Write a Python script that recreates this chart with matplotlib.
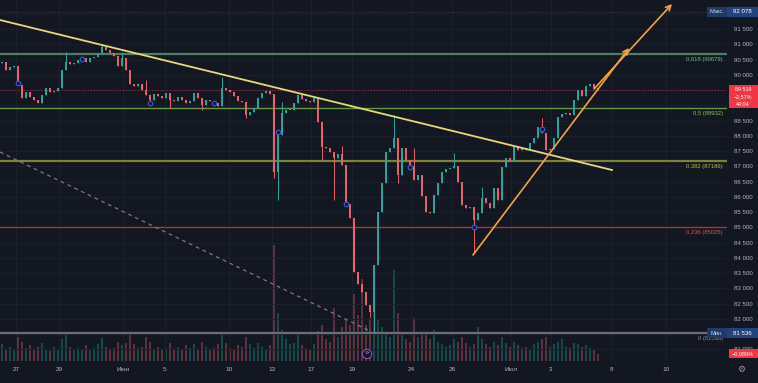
import matplotlib
matplotlib.use("Agg")
import matplotlib.pyplot as plt
from matplotlib.patches import Rectangle
import numpy as np

plt.rcParams['font.family'] = ['Liberation Sans', 'DejaVu Sans']

# candle closes (open = previous close)
first_open = 90400
closes = [
    90425, 90163, 90261, 90294, 89671, 89245, 89441, 89277, 89179, 89081,
    89343, 89573, 89441, 89474, 89573, 90163, 90425, 90360, 90393, 90491,
    90557, 90425, 90557, 90589, 90721, 90917, 90819, 90721, 90622, 90294,
    90557, 90163, 89704, 89638, 89704, 89507, 89343, 89179, 89376, 89310,
    89245, 89409, 89179, 89146, 89277, 89179, 89081, 89146, 89409, 89245,
    89015, 89179, 89146, 89081, 88982, 89573, 89507, 89441, 89310, 89146,
    89113, 88687, 88785, 88917, 89245, 89409, 89474, 89376, 86817, 88031,
    88753, 88851, 88851, 89081, 89343, 89212, 89146, 89113, 89245, 88457,
    87637, 87605, 87473, 87277, 87408, 87047, 85768, 85309, 83537, 83144,
    82881, 82455, 82225, 83767, 85505, 86457, 87473, 87605, 87933, 86719,
    87605, 87211, 87014, 86555, 86719, 86030, 85505, 85473, 86063, 86457,
    86817, 86916, 86949, 87014, 86489, 85735, 85637, 85669, 85243, 85473,
    85965, 85801, 85637, 86293, 85899, 86981, 87277, 87178, 87670, 87539,
    87572, 87539, 87769, 87933, 88293, 88097, 87539, 87572, 87933, 88621,
    88720, 88753, 88687, 89179, 89507, 89310, 89638, 89704, 89573, 89519,
]
# long wicks
wick_highs = {16: 90753, 25: 91016, 30: 90753, 36: 89835, 55: 89933, 70: 89113,
              78: 89310, 85: 87670, 98: 88687, 103: 87605, 113: 87441, 120: 86326, 135: 88589}
wick_lows = {37: 89081, 42: 88917, 50: 88851, 61: 88589, 68: 86621, 69: 85899, 80: 87211,
             83: 85899, 92: 82061, 93: 81536, 99: 86457, 118: 84161}

volumes = [
    14, 10, 12, 9, 20, 16, 11, 13, 9, 12,
    15, 10, 8, 12, 10, 18, 22, 12, 9, 11,
    10, 13, 9, 11, 14, 19, 12, 10, 11, 16,
    13, 15, 22, 14, 11, 12, 20, 16, 10, 12,
    9, 11, 15, 10, 12, 9, 13, 11, 14, 10,
    16, 12, 10, 11, 14, 24, 15, 11, 10, 13,
    12, 20, 14, 11, 15, 12, 10, 13, 96, 40,
    26, 18, 14, 15, 22, 13, 11, 10, 14, 25,
    30, 18, 16, 44, 20, 28, 34, 30, 56, 38,
    68, 30, 36, 45, 34, 28, 24, 20, 76, 40,
    22, 18, 16, 36, 20, 24, 22, 18, 26, 16,
    14, 12, 13, 18, 16, 20, 15, 12, 14, 28,
    18, 14, 12, 16, 13, 20, 15, 12, 16, 13,
    11, 12, 10, 14, 16, 18, 20, 12, 14, 16,
    18, 12, 11, 15, 14, 12, 13, 11, 10, 6,
]

date_pos = [3.5, 14.25, 30.25, 40.75, 56.75, 67.5, 77.25, 87.5, 102.25, 112.5, 127.25, 137.25, 152.25, 166.0]
date_labels = ["27", "29", "Июн", "5", "10", "13", "17", "19", "24", "26", "Июл", "3", "8", "10"]

fib_ratios = ["0", "0,236", "0,382", "0,5", "0,618"]
fib_prices = [81536, 85025, 87186, 88932, 90679]
fib_line_colors = ["#6b6e78", "#a33a3a", "#7d8238", "#5f9a45", "#4f7f62"]
fib_text_colors = ["#8d909a", "#d95757", "#b3bb45", "#86c05a", "#6cbf84"]

event_idx = [4, 20, 37, 53, 69, 86, 102, 118, 135]
event_price = [89737, 90524, 89081, 89081, 88129, 85768, 86982, 85013, 88228]

yellow_line = ([-0.5, 152.5], [91803, 86883])
gray_dashed = ([-0.5, 92], [87473, 81602])
orange_1 = ([117.75, 156.75], [84095, 90885])
orange_2 = ([148, 167.5], [89540, 92328])

last_price = 89519
max_price = 92078
min_price = 81536

bg = '#131722'
W, H = 758, 383
fig = plt.figure(figsize=(W / 100, H / 100), dpi=100)
fig.patch.set_facecolor(bg)
pane_w, pane_h = 727, 361
ax = fig.add_axes([0, 1 - pane_h / H, pane_w / W, pane_h / H])
axv = ax.twinx()
ax.set_zorder(axv.get_zorder() + 1)
ax.patch.set_visible(False)

idx = np.arange(len(closes))
c = np.array(closes, dtype=float)
o = np.array([first_open] + closes[:-1], dtype=float)
hi = np.array([wick_highs.get(i, max(o[i], c[i])) for i in idx])
lo = np.array([wick_lows.get(i, min(o[i], c[i])) for i in idx])
up = c >= o
cols = np.where(up, '#26a69a', '#e5626a')

# volume
axv.bar(idx, volumes, width=0.55, color=cols, alpha=0.35, linewidth=0)
axv.set_ylim(0, 300)
axv.set_yticks([])
for s in axv.spines.values():
    s.set_visible(False)

# candles
ax.vlines(idx, lo, hi, colors=cols, linewidth=0.7, zorder=4)
ax.bar(idx, np.maximum(np.abs(c - o), 20), bottom=np.minimum(o, c), width=0.6,
       color=cols, linewidth=0, zorder=4)

ax.set_xlim(-0.5, 181.25)
ax.set_ylim(80618, 92459)

levels = list(range(81000, 92001, 500))
ax.set_yticks(levels)
hidden = {81500, 89000, 89500, 92000}  # covered by the price-axis boxes
ax.set_yticklabels(['' if v in hidden else f"{v:,}".replace(",", " ") for v in levels])
ax.yaxis.tick_right()
ax.tick_params(axis='y', length=0, pad=5, labelsize=4.4, colors='#b2b5be')
ax.set_xticks(date_pos)
ax.set_xticklabels(date_labels)
ax.tick_params(axis='x', length=0, pad=4, labelsize=4.6, colors='#b2b5be')
ax.grid(True, color='#1b202c', linewidth=0.7)
for s in ax.spines.values():
    s.set_visible(False)

# fib levels
for r, p, lc, tc in zip(fib_ratios, fib_prices, fib_line_colors, fib_text_colors):
    lw = 1.6 if r in ("0", "0,382", "0,618") else 1.0
    ax.axhline(p, color=lc, linewidth=lw, zorder=3)
    ax.annotate(f"{r} ({p})", xy=(1, p), xycoords=('axes fraction', 'data'),
                xytext=(-3, -2.2), textcoords='offset points', ha='right', va='top',
                fontsize=4.2, color=tc, zorder=6)

ax.axhline(last_price, color='#f23645', linewidth=0.7, linestyle=(0, (1, 2)), alpha=0.7, zorder=3)
ax.axhline(max_price, color='#787b86', linewidth=0.6, linestyle=(0, (1, 2)), alpha=0.6, zorder=3)

# trend lines
ax.plot(*yellow_line, color='#e8d77c', linewidth=1.3, zorder=5)
ax.plot(*gray_dashed, color='#787b86', linewidth=0.9, linestyle=(0, (3, 3)), zorder=5)
for xs, ys in (orange_1, orange_2):
    ax.annotate('', xy=(xs[1], ys[1]), xytext=(xs[0], ys[0]),
                arrowprops=dict(arrowstyle='->', color='#f4a244', lw=1.2, mutation_scale=9,
                                shrinkA=0, shrinkB=0), zorder=5, annotation_clip=False)

ax.scatter(event_idx, event_price, s=11, facecolors='#131a33', edgecolors='#2f5fd6',
           linewidths=0.8, zorder=6)

# price-axis boxes
yt = ax.get_yaxis_transform()
px = 32.8  # price units per pixel


def box(x0, x1, p_top, p_bot, color):
    ax.add_patch(Rectangle((x0 / pane_w, p_bot), (x1 - x0) / pane_w, p_top - p_bot,
                           transform=yt, clip_on=False, facecolor=color, edgecolor='none', zorder=7))


box(707, 727, max_price + 5 * px, max_price - 5 * px, '#1f3a68')
box(727, 758, max_price + 5 * px, max_price - 5 * px, '#23447a')
ax.text(717 / pane_w, max_price, "Макс.", transform=yt, ha='center', va='center',
        fontsize=4.0, color='#d1d4dc', zorder=8)
ax.text(742 / pane_w, max_price, "92 078", transform=yt, ha='center', va='center',
        fontsize=4.4, color='#ffffff', zorder=8)

box(707, 727, min_price + 5 * px, min_price - 5 * px, '#1f3a68')
box(727, 758, min_price + 5 * px, min_price - 5 * px, '#23447a')
ax.text(717 / pane_w, min_price, "Мин.", transform=yt, ha='center', va='center',
        fontsize=4.0, color='#d1d4dc', zorder=8)
ax.text(742 / pane_w, min_price, "81 536", transform=yt, ha='center', va='center',
        fontsize=4.4, color='#ffffff', zorder=8)

box(729, 758, last_price + 5 * px, last_price - 18 * px, '#f23645')
for k, t in enumerate(["89 519", "−2,57%", "44:04"]):
    ax.text(743 / pane_w, last_price - k * 7.2 * px, t, transform=yt, ha='center', va='center',
            fontsize=3.9, color='#ffffff', zorder=8)

box(729, 758, 81012, 80717, '#f23645')
ax.text(743 / pane_w, 80865, "−0,089%", transform=yt, ha='center', va='center',
        fontsize=4.0, color='#ffffff', zorder=8)

# UI buttons
fig.text(367 / W, 1 - 354 / H, "»", ha='center', va='center', fontsize=5.5, color='#b39ddb',
         bbox=dict(boxstyle='circle,pad=0.15', fc=bg, ec='#7e57c2', lw=0.8))
fig.text(741 / W, 1 - 369 / H, "⚙", ha='center', va='center', fontsize=6.5, color='#9598a1',
         family=['DejaVu Sans'])

fig.savefig("out.png", dpi=100, facecolor=bg)
